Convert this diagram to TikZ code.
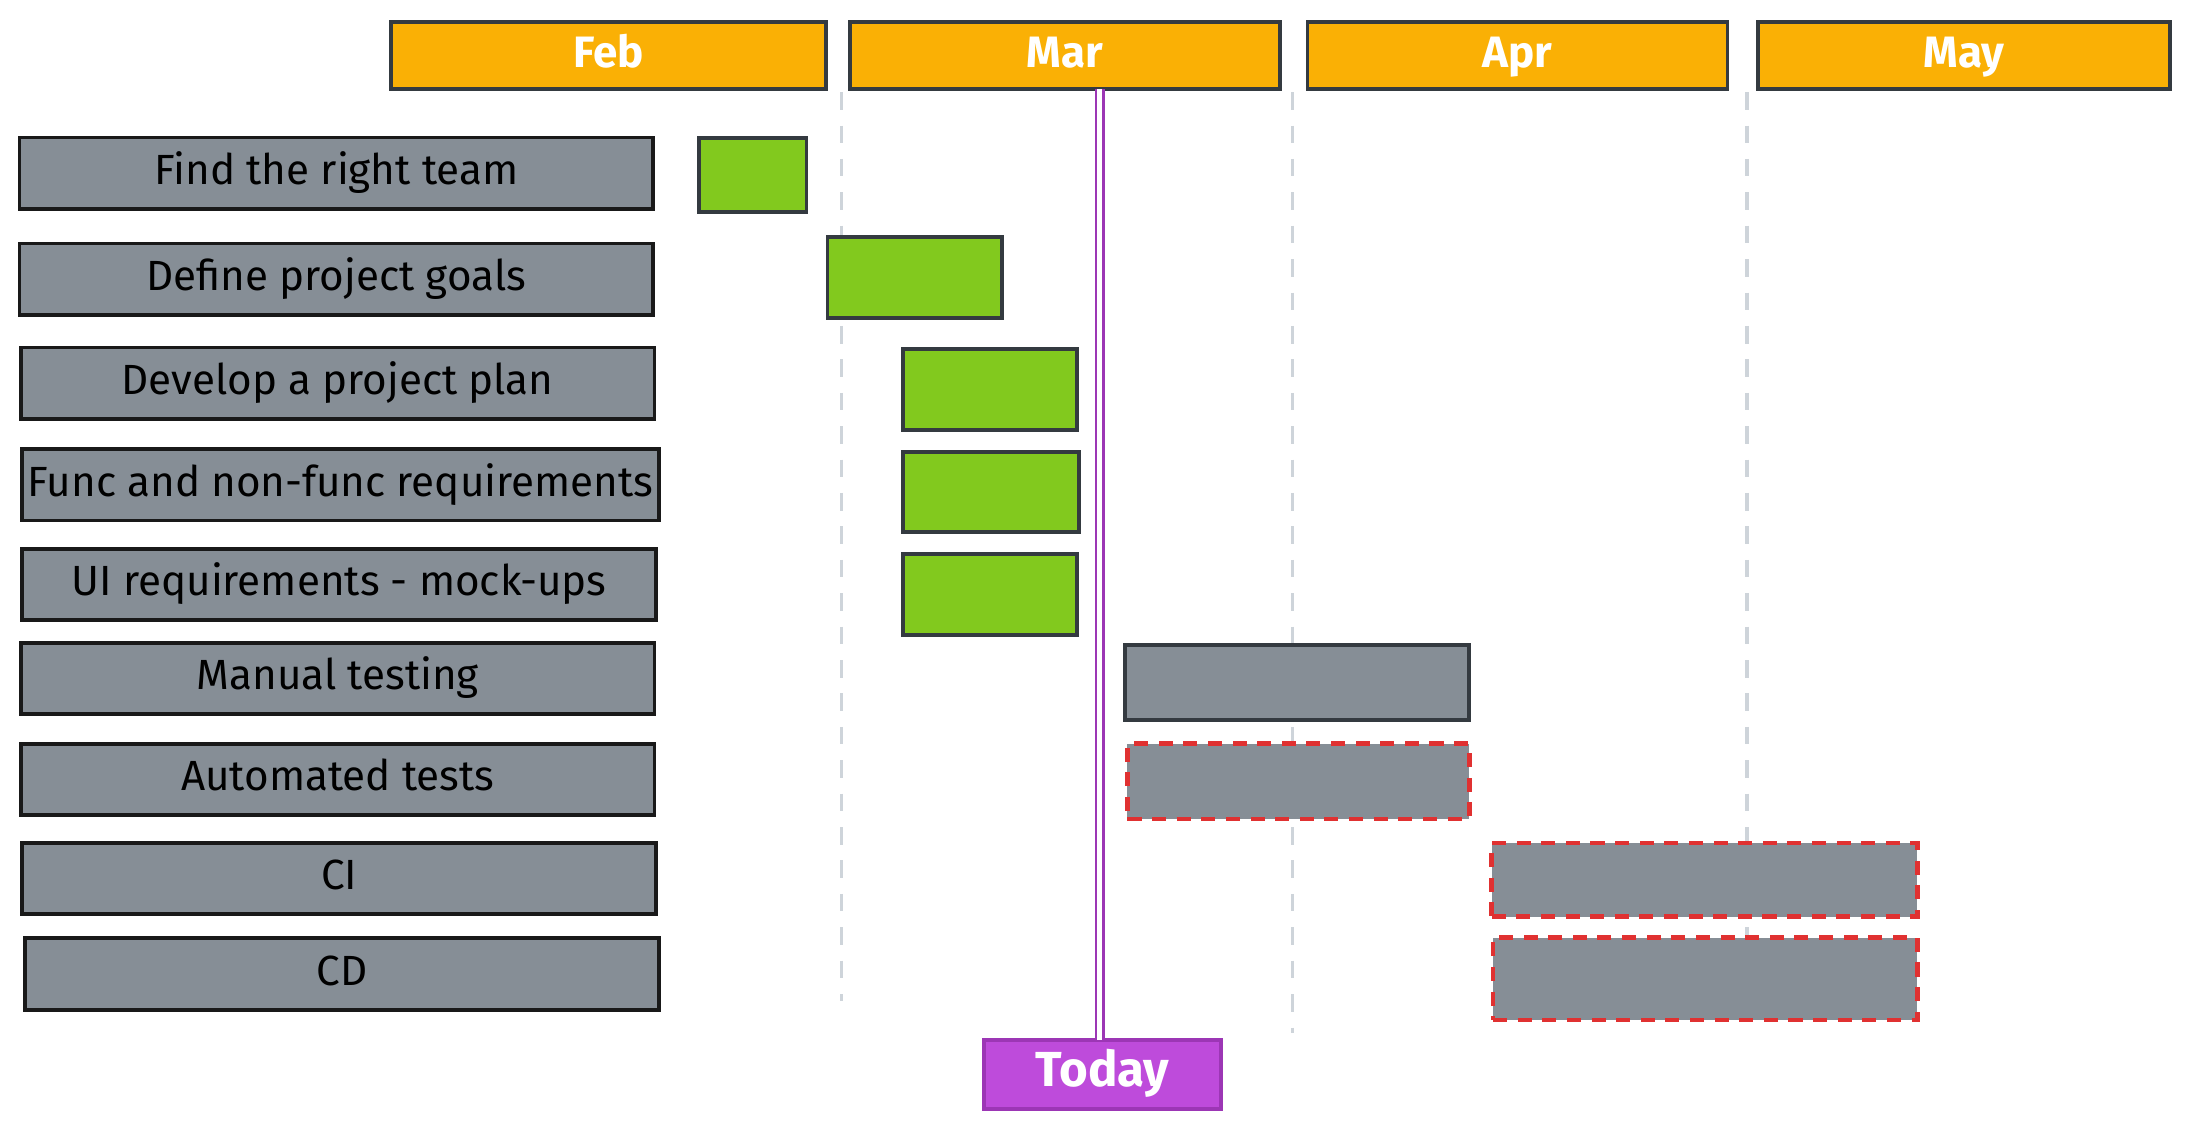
\documentclass[tikz,border=0pt]{standalone}
\usepackage{fontspec}
\setmainfont{Fira Sans}
\begin{document}
\def\pxu{0.013954cm}
\begin{tikzpicture}[x=0.013954cm, y=-0.013954cm,
  every node/.style={inner sep=0pt, outer sep=0pt},
  box/.style 2 args={rectangle, minimum width=#1*\pxu, minimum height=#2*\pxu},
  label text/.style={text height=9pt, text depth=2.6pt},
  task/.style={draw=black!90, line width=1.1pt, fill=taskgray, label text,
    font=\fontsize{12}{14}\selectfont, text=black},
  month/.style={draw=ink, line width=1.1pt, fill=monthorange, label text,
    font=\fontsize{12.5}{14}\selectfont\bfseries, text=white},
  done/.style={draw=ink, line width=1.1pt, fill=donegreen},
  planned/.style={draw=ink, line width=1.1pt, fill=taskgray},
  pending/.style={draw=pendred, line width=1.3pt, dash pattern=on 4pt off 3pt, fill=taskgray},
  todaybox/.style={draw=todayline, line width=1.1pt, fill=todaypurple,
    text height=10pt, text depth=3pt,
    font=\fontsize{14}{16}\selectfont\bfseries, text=white},
  grid/.style={draw=gridgray, line width=0.9pt, dash pattern=on 5pt off 4.5pt},
]
\definecolor{taskgray}{HTML}{868E96}
\definecolor{ink}{HTML}{343A40}
\definecolor{monthorange}{HTML}{FAB005}
\definecolor{donegreen}{HTML}{82C91E}
\definecolor{pendred}{HTML}{E03131}
\definecolor{todaypurple}{HTML}{BE4BDB}
\definecolor{todayline}{HTML}{9C36B5}
\definecolor{gridgray}{HTML}{CED4DA}

\useasboundingbox (0,0) rectangle (1568,810);

% month grid separators
\coordinate (g1a) at (603,66);  \coordinate (g1b) at (603,717);
\coordinate (g2a) at (926,66);  \coordinate (g2b) at (926,740);
\coordinate (g3a) at (1252,66); \coordinate (g3b) at (1252,735);
\draw[grid] (g1a) -- (g1b);
\draw[grid] (g2a) -- (g2b);
\draw[grid] (g3a) -- (g3b);

% month headers
\node[month, box={312}{48}] (feb) at (436,40) {Feb};
\node[month, box={308}{48}] (mar) at (763,40) {Mar};
\node[month, box={301}{48}] (apr) at (1087.5,40) {Apr};
\node[month, box={295}{48}] (may) at (1407.5,40) {May};

% task labels
\node[task, box={454}{51}] (t1) at (241,124)   {Find the right team};
\node[task, box={454}{51}] (t2) at (241,200)   {Define project goals};
\node[task, box={454}{51}] (t3) at (242,274.5) {Develop a project plan};
\node[task, box={456}{51}] (t4) at (244,347.5) {Func and non-func requirements};
\node[task, box={454}{51}] (t5) at (243,419)   {UI requirements - mock-ups};
\node[task, box={454}{51}] (t6) at (242,486)   {Manual testing};
\node[task, box={454}{51}] (t7) at (242,558.5) {Automated tests};
\node[task, box={454}{51}] (t8) at (243,629.5) {CI};
\node[task, box={454}{51}] (t9) at (245,698)   {CD};

% schedule bars
\node[done, box={77}{53}]  (b1) at (539.5,125.5) {};
\node[done, box={125}{58}] (b2) at (655.5,199) {};
\node[done, box={125}{58}] (b3) at (709.5,279) {};
\node[done, box={126}{57}] (b4) at (710,352.5) {};
\node[done, box={125}{58}] (b5) at (709.5,426) {};
\node[planned, box={247}{54}] (b6) at (929.5,489) {};
\node[pending, box={245}{54}] (b7) at (930.5,560) {};
\node[pending, box={305}{53}] (b8) at (1221.5,630.5) {};
\node[pending, box={304}{59}] (b9) at (1222,701.5) {};

% today marker
\node[todaybox, box={170}{50}] (today) at (790,770) {Today};
\coordinate (todaytop) at (788,64);
\draw[todayline, line width=0.6pt, double=white, double distance=1.6pt]
  (today.north -| todaytop) -- (todaytop);
\end{tikzpicture}
\end{document}
